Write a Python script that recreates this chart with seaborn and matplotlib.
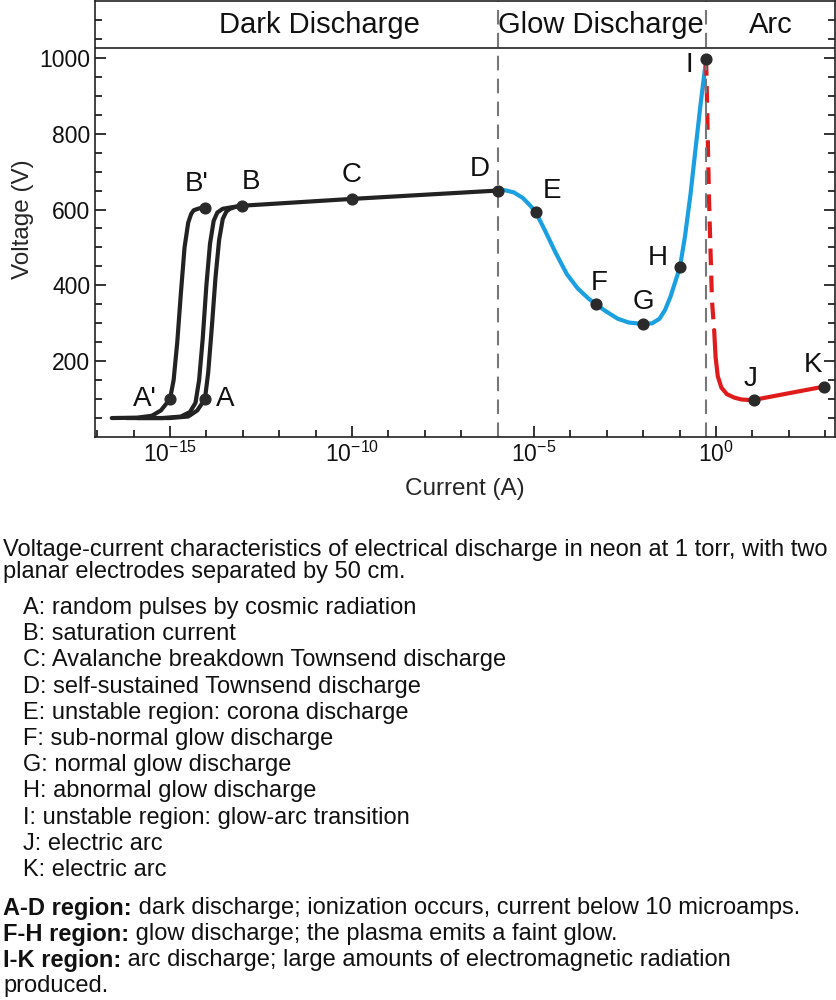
import numpy as np
import pandas as pd
import seaborn as sns
import matplotlib.pyplot as plt
from matplotlib.ticker import FixedLocator, NullFormatter

# log10(current) / voltage points
c1_x = [-16.6, -15.9, -15.5, -15.25, -15.0, -14.9, -14.8, -14.7, -14.6, -14.5, -14.42, -14.35, -14.2, -14.03]
c1_y = [50, 51, 56, 70, 100, 150, 250, 380, 500, 565, 588, 598, 603, 605]
c2_x = [-16.2, -15.2, -14.7, -14.45, -14.3, -14.2, -14.1, -14.0, -13.9, -13.8, -13.7, -13.55, -13.3, -13.02]
c2_y = [50, 50, 54, 66, 90, 150, 260, 400, 510, 570, 592, 602, 606, 610]
c3_x = [-15.9, -15.0, -14.5, -14.25, -14.04, -13.95, -13.85, -13.75, -13.65, -13.55, -13.45, -13.35, -13.2, -13.02]
c3_y = [50, 50, 54, 70, 100, 170, 290, 420, 520, 575, 595, 602, 607, 610]
dark_x = [-13.02, -10.0, -6.0]
dark_y = [610, 628, 650]
glow_x = [-6.0, -5.8, -5.55, -5.3, -5.1, -4.95, -4.7, -4.4, -4.1, -3.8, -3.5, -3.3, -3.0, -2.7, -2.4, -2.0,
          -1.75, -1.55, -1.4, -1.25, -1.1, -0.99, -0.85, -0.7, -0.55, -0.42, -0.33, -0.27]
glow_y = [650, 651, 645, 630, 610, 593, 545, 485, 430, 392, 365, 350, 330, 312, 302, 298,
          300, 312, 335, 370, 415, 448, 530, 640, 770, 880, 950, 997]
trans_x = [-0.27, -0.19, -0.11, -0.05]
trans_y = [997, 624, 360, 282]
arc_x = [-0.05, -0.01, 0.05, 0.15, 0.3, 0.5, 0.7, 0.99, 2.97]
arc_y = [282, 210, 160, 130, 113, 104, 99, 97, 133]

pt_names = ["A'", "A", "B'", "B", "C", "D", "E", "F", "G", "H", "I", "J", "K"]
pt_x = [-15.0, -14.04, -14.03, -13.02, -10.0, -6.0, -4.95, -3.3, -2.0, -0.99, -0.27, 1.04, 2.97]
pt_y = [100, 100, 605, 610, 628, 650, 593, 350, 298, 448, 997, 97, 133]
lab_dx = [-0.7, 0.55, -0.25, 0.25, 0.0, -0.5, 0.45, 0.1, 0.0, -0.6, -0.45, -0.1, -0.3]
lab_dy = [0, 0, 62, 62, 62, 57, 57, 57, 57, 25, -15, 57, 57]

regions = ["Dark Discharge", "Glow Discharge", "Arc"]
region_x = [-10.9, -3.15, 1.5]

def lin(v):
    return [10.0 ** a for a in v]

sns.set_style("ticks")
plt.rcParams["font.family"] = "Liberation Sans"
plt.rcParams["mathtext.fontset"] = "custom"
plt.rcParams["mathtext.rm"] = "Liberation Sans"
fig = plt.figure(figsize=(8.37, 10), dpi=100)
ax = fig.add_axes([95 / 837, 1 - 437 / 1000, 740 / 837, 437 / 1000 - 0.001])

for xs, ys in [(c1_x, c1_y), (c2_x, c2_y), (c3_x, c3_y), (dark_x, dark_y)]:
    sns.lineplot(x=lin(xs), y=ys, ax=ax, color="#222222", lw=3, sort=False, estimator=None)
sns.lineplot(x=lin(glow_x), y=glow_y, ax=ax, color="#1a9fe0", lw=3, sort=False, estimator=None)
sns.lineplot(x=lin(arc_x), y=arc_y, ax=ax, color="#e01b1b", lw=3, sort=False, estimator=None)
ax.plot(lin(trans_x), trans_y, color="#e01b1b", lw=3, ls=(0, (4, 2.5)))

ax.axvline(10.0 ** -6.0, color="#777777", lw=1.5, ls=(0, (7, 4)))
ax.axvline(10.0 ** -0.27, color="#777777", lw=1.5, ls=(0, (7, 4)))
ax.axhline(1025, color="#222222", lw=1.2)

ax.scatter(lin(pt_x), pt_y, s=60, color="#2a2a2a", zorder=5)
for n, x, y, dx, dy in zip(pt_names, pt_x, pt_y, lab_dx, lab_dy):
    ax.text(10.0 ** (x + dx), y + dy, n, fontsize=20, ha="center", va="center", color="#111111")
for r, x in zip(regions, region_x):
    ax.text(10.0 ** x, 1088, r, fontsize=21, ha="center", va="center", color="#111111")

ax.set_xscale("log")
ax.set_xlim(10.0 ** -17.06, 10.0 ** 3.27)
ax.set_ylim(0, 1150)
ax.set_xticks([1e-15, 1e-10, 1e-5, 1e0])
ax.set_xticklabels([r"$10^{-15}$", r"$10^{-10}$", r"$10^{-5}$", r"$10^{0}$"])
ax.xaxis.set_minor_locator(FixedLocator([10.0 ** k for k in range(-17, 4)]))
ax.xaxis.set_minor_formatter(NullFormatter())
ax.set_yticks([200, 400, 600, 800, 1000])
ax.yaxis.set_minor_locator(FixedLocator(list(range(50, 1150, 50))))
ax.tick_params(which="both", direction="in", right=True, top=False, labelsize=16.5, width=1.2,
               colors="#111111")
ax.tick_params(which="major", length=8)
ax.tick_params(which="minor", length=5)
ax.set_xlabel("Current (A)", fontsize=17.5, labelpad=8)
ax.set_ylabel("Voltage (V)", fontsize=17.5, labelpad=4)
for s in ax.spines.values():
    s.set_linewidth(1.2)
    s.set_color("#222222")

def ftext(px, py, s, **kw):
    return fig.text(px / 837, 1 - py / 1000, s, fontsize=17, va="center", color="#111111", **kw)

ftext(3, 550, "Voltage-current characteristics of electrical discharge in neon at 1 torr, with two")
ftext(3, 572, "planar electrodes separated by 50 cm.")
items = ["A: random pulses by cosmic radiation", "B: saturation current",
         "C: Avalanche breakdown Townsend discharge", "D: self-sustained Townsend discharge",
         "E: unstable region: corona discharge", "F: sub-normal glow discharge",
         "G: normal glow discharge", "H: abnormal glow discharge",
         "I: unstable region: glow-arc transition", "J: electric arc", "K: electric arc"]
for i, t in enumerate(items):
    ftext(23, 608 + i * 26.2, t)

notes = [("A-D region:", " dark discharge; ionization occurs, current below 10 microamps.", 908),
         ("F-H region:", " glow discharge; the plasma emits a faint glow.", 934),
         ("I-K region:", " arc discharge; large amounts of electromagnetic radiation", 960)]
renderer = fig.canvas.get_renderer()
for b, t, py in notes:
    bt = ftext(3, py, b, fontweight="bold")
    w = bt.get_window_extent(renderer).width
    ftext(3 + w, py, t)
ftext(3, 986, "produced.")

fig.savefig("out.png", dpi=100)
